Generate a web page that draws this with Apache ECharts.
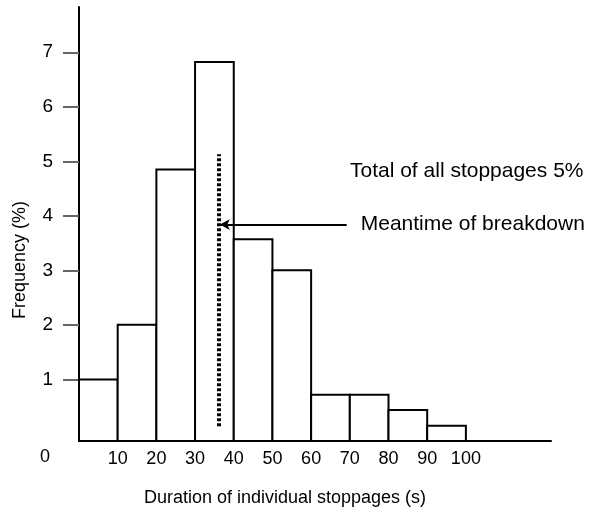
<!DOCTYPE html>
<html>
<head>
<meta charset="utf-8">
<script src="https://cdn.jsdelivr.net/npm/echarts@6/dist/echarts.min.js"></script>
<style>
  html, body { margin: 0; padding: 0; background: #fff; }
  #chart { width: 589px; height: 512px; }
</style>
</head>
<body>
<div id="chart"></div>
<script>
// Histogram bins: left edge of each 10 s bin and its share of stoppages (%)
const binStarts = [0, 10, 20, 30, 40, 50, 60, 70, 80, 90];
const binWidth = 10;
const frequency = [1.0, 2.0, 4.85, 6.82, 3.57, 3.0, 0.72, 0.72, 0.44, 0.15];

// Axis tick values
const xTickValues = [10, 20, 30, 40, 50, 60, 70, 80, 90, 100];
const yTickValues = [1, 2, 3, 4, 5, 6, 7];

// Mean time of breakdown marker and its pointer
const meanTime = 36;
const meanSpan = [0.14, 5.13];
const pointerFrom = 69.2;
const pointerLevel = 3.84;

// Texts
const xTitle = 'Duration of individual stoppages (s)';
const yTitle = 'Frequency (%)';
const totalNote = 'Total of all stoppages 5%';
const meanNote = 'Meantime of breakdown';

const FONT = '"Liberation Sans", Arial, Helvetica, sans-serif';
const X_MIN = 0, X_MAX = 122;
const Y_MIN = -0.13, Y_MAX = 7.83;

const bins = binStarts.map((s, i) => [s, s + binWidth, frequency[i]]);

const chart = echarts.init(document.getElementById('chart'), null, { renderer: 'canvas' });

chart.setOption({
  backgroundColor: '#fff',
  animation: false,
  grid: { left: 79, right: 38, top: 7, bottom: 71, containLabel: false, outerBoundsMode: 'none' },
  xAxis: {
    type: 'value', min: X_MIN, max: X_MAX,
    splitLine: { show: false },
    axisLine: { show: true, onZero: false, lineStyle: { color: '#000', width: 2 } },
    axisTick: { show: false },
    axisLabel: {
      customValues: xTickValues, margin: 9,
      color: '#000', fontSize: 18, fontFamily: FONT
    }
  },
  yAxis: {
    type: 'value', min: Y_MIN, max: Y_MAX,
    splitLine: { show: false },
    axisLine: { show: true, onZero: false, lineStyle: { color: '#000', width: 2 } },
    axisTick: { show: true, customValues: yTickValues, length: 16, lineStyle: { color: '#666', width: 2 } },
    axisLabel: {
      customValues: yTickValues, margin: 26,
      color: '#000', fontSize: 19, fontFamily: FONT
    }
  },
  series: [{
    type: 'custom',
    data: bins,
    encode: { x: [0, 1], y: 2 },
    renderItem: function (params, api) {
      const topLeft = api.coord([api.value(0), api.value(2)]);
      const bottomRight = api.coord([api.value(1), Y_MIN]);
      return {
        type: 'rect',
        shape: {
          x: topLeft[0], y: topLeft[1],
          width: bottomRight[0] - topLeft[0],
          height: bottomRight[1] - topLeft[1]
        },
        style: { fill: '#fff', stroke: '#000', lineWidth: 2 }
      };
    },
    markLine: {
      silent: true,
      animation: false,
      data: [
        [
          { coord: [meanTime, meanSpan[0]], symbol: 'none' },
          { coord: [meanTime, meanSpan[1]], symbol: 'none',
            lineStyle: { color: '#000', width: 4, type: [3, 2] } }
        ],
        [
          { coord: [pointerFrom, pointerLevel], symbol: 'none' },
          { coord: [meanTime + 0.4, pointerLevel], symbol: 'arrow', symbolSize: [8, 10],
            lineStyle: { color: '#000', width: 2, type: 'solid' },
            label: {
              show: true, position: 'start', distance: 14,
              formatter: meanNote, color: '#000', fontSize: 21, fontFamily: FONT
            } }
        ]
      ],
      label: { show: false },
      lineStyle: { color: '#000' }
    }
  }],
  graphic: [
    { type: 'text', left: 40, top: 448, style: { text: '0', fill: '#000', font: '18px ' + FONT } },
    { type: 'text', x: 285, y: 498, style: { text: xTitle, fill: '#000', font: '18px ' + FONT, align: 'center', verticalAlign: 'middle' } },
    { type: 'text', x: 20, y: 260, rotation: Math.PI / 2, style: { text: yTitle, fill: '#000', font: '18px ' + FONT, align: 'center', verticalAlign: 'middle' } },
    { type: 'text', x: 350, y: 171, style: { text: totalNote, fill: '#000', font: '21px ' + FONT, align: 'left', verticalAlign: 'middle' } }
  ]
});
</script>
</body>
</html>
